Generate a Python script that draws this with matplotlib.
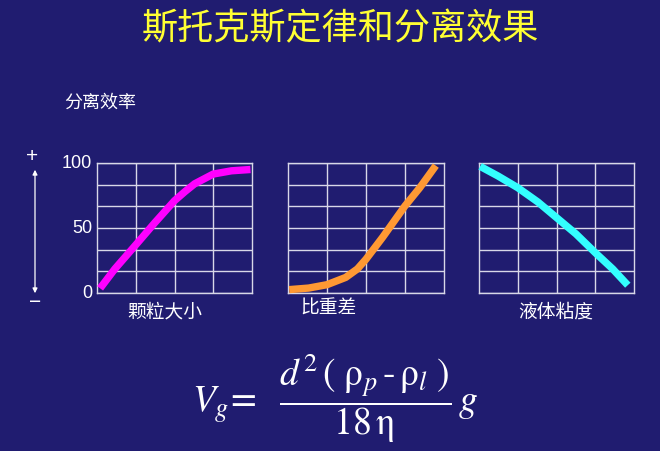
import numpy as np
import matplotlib.pyplot as plt

plt.rcParams['font.family'] = ['Noto Sans CJK SC', 'DejaVu Sans']
plt.rcParams['mathtext.fontset'] = 'stix'

# values (x in grid columns 0..4, y in % 0..100)
size_x = [0.08, 0.46, 1.0, 1.49, 2.0, 2.27, 2.52, 3.0, 3.47, 3.96]
size_y = [3.6, 18.5, 37, 54, 71, 78, 84, 91.5, 94, 95]

dens_x = [0.03, 0.53, 1.0, 1.48, 1.78, 2.0, 2.43, 3.0, 3.38, 3.79]
dens_y = [2.6, 3.8, 6.4, 12, 18.5, 26, 43, 67, 81, 98]

visc_x = [0.03, 0.49, 1.0, 1.52, 2.0, 2.5, 3.0, 3.45, 3.84]
visc_y = [97.4, 90, 81, 70, 58, 45.5, 31, 18.5, 6]

labels = ['颗粒大小', '比重差', '液体粘度']
yticks = [0, 50, 100]

bg = '#201c70'
W, H = 660, 452

def px(x, y):
    return x / W, 1 - y / H

fig = plt.figure(figsize=(6.6, 4.52), dpi=100, facecolor=bg)

# panels: left, right edges in pixels, top/bottom shared
panels = [(97, 252), (288, 444), (479, 634)]
top, bottom = 164, 294
series = [(size_x, size_y, '#ff00ff'),
          (dens_x, dens_y, '#ff9933'),
          (visc_x, visc_y, '#33ffff')]

axes = []
for (l, r), (xs, ys, c) in zip(panels, series):
    ax = fig.add_axes([l / W, (H - bottom) / H, (r - l) / W, (bottom - top) / H])
    ax.set_facecolor(bg)
    ax.plot(xs, ys, color=c, lw=5.3, solid_capstyle='butt', solid_joinstyle='round',
            clip_on=False, zorder=3)
    ax.set_xlim(0, 4)
    ax.set_ylim(0, 100)
    ax.set_xticks([1, 2, 3])
    ax.set_yticks(np.linspace(0, 100, 7))
    ax.grid(True, color='#d8d8e8', lw=1)
    ax.tick_params(length=0, labelbottom=False, labelleft=False)
    for s in ax.spines.values():
        s.set_color('#d8d8e8')
        s.set_linewidth(1)
    axes.append(ax)

# y tick labels only on the first panel
for v in yticks:
    x, y = px(92, 0)
    fig.text(x, (H - bottom) / H + v / 100 * (bottom - top) / H, str(v),
             color='white', fontsize=13, family='Liberation Sans',
             ha='right', va='center')

fig.text(*px(340, 29), '斯托克斯定律和分离效果', color='#ffff33', fontsize=26,
         ha='center', va='center')
fig.text(*px(100, 103), '分离效率', color='white', fontsize=13, ha='center', va='center')

fig.text(*px(165, 312), labels[0], color='white', fontsize=13.5, ha='center', va='center')
fig.text(*px(329, 308), labels[1], color='white', fontsize=13.5, ha='center', va='center')
fig.text(*px(556, 312), labels[2], color='white', fontsize=13.5, ha='center', va='center')

# plus / minus arrow
axes[0].annotate('', xy=(35, H - 297), xytext=(35, H - 168),
                 xycoords='figure pixels', textcoords='figure pixels',
                 arrowprops=dict(arrowstyle='<|-|>', color='white', lw=0.9,
                                 mutation_scale=7))
fig.text(*px(32, 156), '+', color='white', fontsize=15, family='Liberation Sans',
         ha='center', va='center')
fig.text(*px(35, 302), '−', color='white', fontsize=15, family='Liberation Sans',
         ha='center', va='center')

# Stokes formula
fig.text(*px(335, 398),
         r'$V_g\!=\ \ \dfrac{d^{2}\,(\ \mathrm{\rho}_p\,\text{-}\,\mathrm{\rho}_l\ )}'
         r'{18\,\mathrm{\eta}}\,g$',
         color='white', fontsize=27, ha='center', va='center')

fig.savefig('out.png', dpi=100, facecolor=bg)
